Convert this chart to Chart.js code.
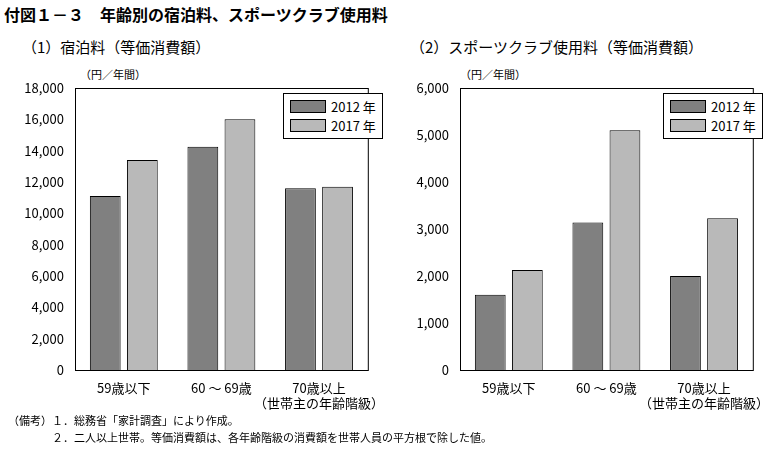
<!DOCTYPE html>
<html><head><meta charset="utf-8">
<script src="https://cdn.jsdelivr.net/npm/chart.js@4"></script>
<style>
body{margin:0;width:768px;height:449px;background:#fff;font-family:"Noto Sans CJK JP";color:#000;position:relative;overflow:hidden}
.t{position:absolute;white-space:nowrap}
.box{position:absolute;width:387px;height:355px;top:60px}
.leg{position:absolute;border:1px solid #000;background:#fff;font-size:13px;padding:3px 6px;line-height:19px}
.leg span{display:inline-block;width:34px;height:11px;border:1px solid #000;margin-right:5px;vertical-align:-1px}
</style></head><body>
<div class="t" style="left:4px;top:2px;font-size:16px;font-weight:bold">付図１－３　年齢別の宿泊料、スポーツクラブ使用料</div>
<div class="t" style="left:22px;top:36px;font-size:15px">（1）宿泊料（等価消費額）</div>
<div class="t" style="left:410px;top:36px;font-size:15px">（2）スポーツクラブ使用料（等価消費額）</div>
<div class="t" style="left:80px;top:66px;font-size:11px">（円／年間）</div>
<div class="t" style="left:460px;top:66px;font-size:11px">（円／年間）</div>
<div class="box" style="left:0"><canvas id="c1"></canvas></div>
<div class="box" style="left:385px"><canvas id="c2"></canvas></div>
<div class="leg" style="left:283px;top:93px"><span style="background:#808080"></span>2012 年<br><span style="background:#b9b9b9"></span>2017 年</div>
<div class="leg" style="left:663px;top:93px"><span style="background:#808080"></span>2012 年<br><span style="background:#b9b9b9"></span>2017 年</div>
<div class="t" style="left:8px;top:412px;font-size:11px;line-height:17px">（備考）１．総務省「家計調査」により作成。<br>　　　　２．二人以上世帯。等価消費額は、各年齢階級の消費額を世帯人員の平方根で除した値。</div>
<script>
const categories = ["59歳以下", "60 ～ 69歳", ["70歳以上", "（世帯主の年齢階級）"]];
const hotel2012 = [11100, 14250, 11600];
const hotel2017 = [13400, 16000, 11700];
const sport2012 = [1600, 3140, 2000];
const sport2017 = [2130, 5100, 3230];
const hotelTicks = {max: 18000, step: 2000};
const sportTicks = {max: 6000, step: 1000};

const frame = {
  id: 'frame',
  afterDraw(c) {
    const a = c.chartArea, x = c.ctx;
    x.save(); x.strokeStyle = '#000'; x.lineWidth = 1;
    x.strokeRect(a.left + 0.5, a.top + 0.5, a.right - a.left, a.bottom - a.top);
    x.restore();
  }
};

function make(id, d1, d2, t) {
  new Chart(document.getElementById(id), {
    type: 'bar',
    data: {
      labels: categories,
      datasets: [
        {label: '2012年', data: d1, backgroundColor: '#808080', borderColor: '#000', borderWidth: 1},
        {label: '2017年', data: d2, backgroundColor: '#b9b9b9', borderColor: '#000', borderWidth: 1}
      ]
    },
    options: {
      responsive: true, maintainAspectRatio: false, animation: false,
      layout: {padding: {top: 28, right: 6}},
      datasets: {bar: {categoryPercentage: 0.76, barPercentage: 0.83}},
      plugins: {legend: {display: false}, tooltip: {enabled: false}},
      scales: {
        x: {
          grid: {display: false},
          border: {color: '#000'},
          ticks: {color: '#000', font: {family: 'Noto Sans CJK JP', size: 13}, padding: 2,
                  maxRotation: 0, minRotation: 0, autoSkip: false},
          afterFit: s => { s.height = 45; }
        },
        y: {
          min: 0, max: t.max,
          grid: {display: false, drawTicks: true},
          border: {color: '#000'},
          ticks: {stepSize: t.step, color: '#000', font: {family: 'Noto Sans CJK JP', size: 13},
                  callback: v => v.toLocaleString('en-US')},
          afterFit: s => { s.width = 75; }
        }
      }
    },
    plugins: [frame]
  });
}
make('c1', hotel2012, hotel2017, hotelTicks);
make('c2', sport2012, sport2017, sportTicks);
</script>
</body></html>
